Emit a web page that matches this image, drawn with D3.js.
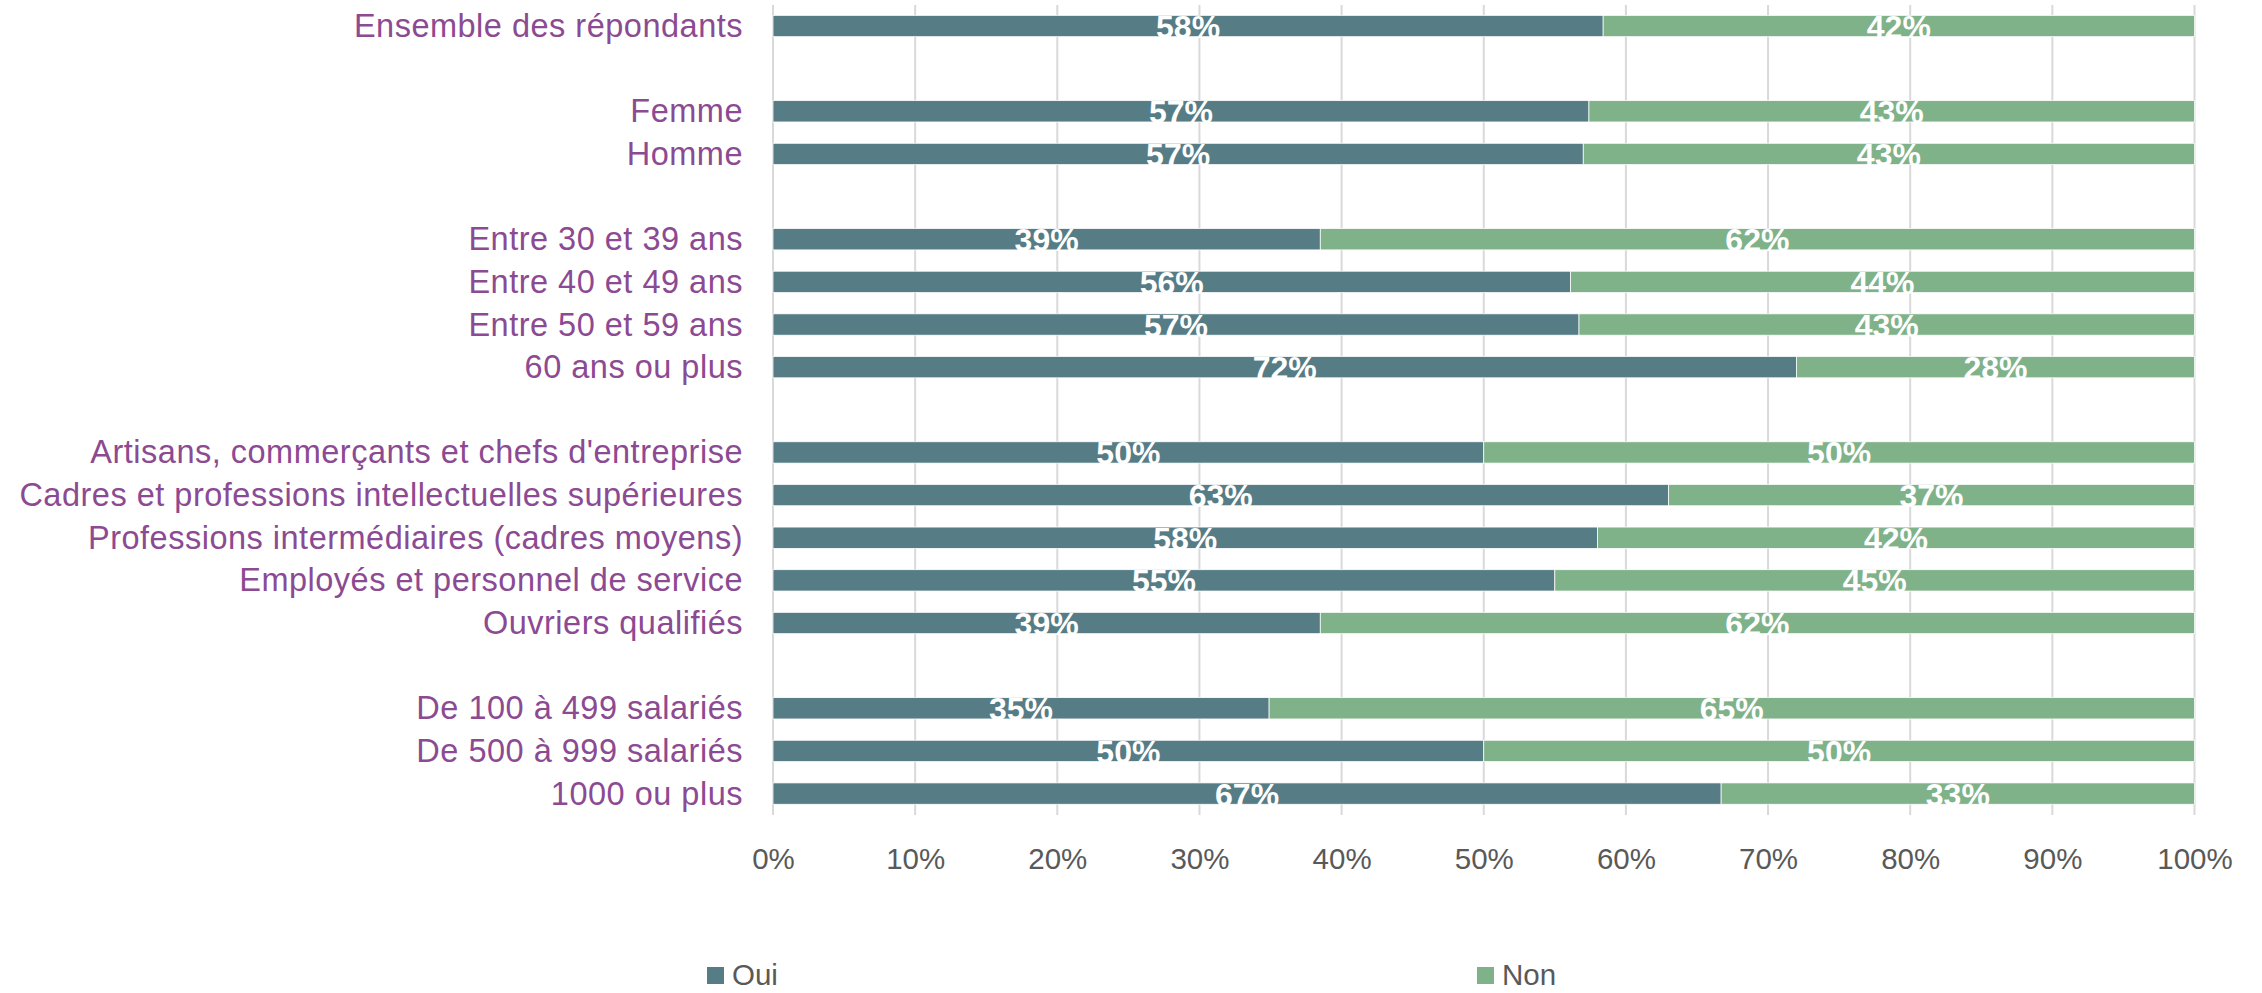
<!DOCTYPE html>
<html><head><meta charset="utf-8">
<script src="https://cdn.jsdelivr.net/npm/d3@7"></script>
<style>body{margin:0;background:#fff;overflow:hidden}</style>
</head><body>
<svg id="c" width="2262" height="993"></svg>
<script>
const categories = ["Ensemble des répondants", "", "Femme", "Homme", "",
  "Entre 30 et 39 ans", "Entre 40 et 49 ans", "Entre 50 et 59 ans", "60 ans ou plus", "",
  "Artisans, commerçants et chefs d'entreprise", "Cadres et professions intellectuelles supérieures",
  "Professions intermédiaires (cadres moyens)", "Employés et personnel de service", "Ouvriers qualifiés", "",
  "De 100 à 499 salariés", "De 500 à 999 salariés", "1000 ou plus"];
const oui = [58.4, null, 57.4, 57.0, null, 38.5, 56.1, 56.7, 72.0, null, 50.0, 63.0, 58.0, 55.0, 38.5, null, 34.9, 50.0, 66.7];
const non = [41.6, null, 42.6, 43.0, null, 61.5, 43.9, 43.3, 28.0, null, 50.0, 37.0, 42.0, 45.0, 61.5, null, 65.1, 50.0, 33.3];
const seriesNames = ["Oui", "Non"];
const tickValues = [0, 10, 20, 30, 40, 50, 60, 70, 80, 90, 100];

const colors = {Oui: "#567C86", Non: "#80B28A"};
const svg = d3.select("#c");
const x = d3.scaleLinear().domain([0, 100]).range([773, 2194.5]);
const y = d3.scaleBand().domain(d3.range(categories.length)).range([4.7, 814.9]).paddingInner(0.5).paddingOuter(0.25);

// gridlines
svg.append("g").selectAll("line").data(tickValues).join("line")
  .attr("x1", d => x(d)).attr("x2", d => x(d)).attr("y1", 5).attr("y2", 815)
  .attr("stroke", "#D9D9D9").attr("stroke-width", 2);

// stacked data
const rows = categories.map((c, i) => ({i, c, Oui: oui[i], Non: non[i]})).filter(r => r.Oui != null);
const stack = d3.stack().keys(seriesNames)(rows);

const g = svg.append("g");
stack.forEach(s => {
  g.append("g").selectAll("rect").data(s).join("rect")
    .attr("x", d => x(d[0])).attr("width", d => x(d[1]) - x(d[0]))
    .attr("y", d => y(d.data.i)).attr("height", y.bandwidth())
    .attr("fill", colors[s.key]).attr("stroke", "#fff").attr("stroke-width", 0.75);
});
stack.forEach(s => {
  g.append("g").selectAll("text").data(s).join("text")
    .attr("x", d => (x(d[0]) + x(d[1])) / 2)
    .attr("y", d => y(d.data.i) + y.bandwidth() / 2 + 12)
    .attr("text-anchor", "middle")
    .attr("font-family", "Liberation Sans, Arial, sans-serif")
    .attr("font-weight", "bold").attr("font-size", 32).attr("fill", "#fff")
    .text(d => Math.round(d.data[s.key]) + "%");
});

// category labels
svg.append("g").selectAll("text").data(categories.map((c, i) => ({c, i})).filter(d => d.c)).join("text")
  .attr("x", 743).attr("y", d => y(d.i) + y.bandwidth() / 2 + 11)
  .attr("text-anchor", "end")
  .attr("font-family", "Liberation Sans, Arial, sans-serif").attr("font-size", 32.5)
  .attr("letter-spacing", 0.5)
  .attr("fill", "#8B4A92").text(d => d.c);

// x axis
const xAxis = d3.axisBottom(x).tickValues(tickValues).tickFormat(d => d + "%").tickSize(0).tickPadding(0);
const ax = svg.append("g").attr("transform", "translate(0,869)").call(xAxis);
ax.select(".domain").remove();
ax.selectAll("text").attr("font-family", "Liberation Sans, Arial, sans-serif").attr("font-size", 29.5)
  .attr("fill", "#595959").attr("dy", 0).attr("y", 0);

// legend
const legX = {Oui: 707, Non: 1477};
const leg = svg.append("g").selectAll("g").data(seriesNames).join("g");
leg.append("rect").attr("x", d => legX[d]).attr("y", 967).attr("width", 17).attr("height", 17).attr("fill", d => colors[d]);
leg.append("text").attr("x", d => legX[d] + 25).attr("y", 985)
  .attr("font-family", "Liberation Sans, Arial, sans-serif").attr("font-size", 29.5)
  .attr("fill", "#595959").text(d => d);
</script>
</body></html>
